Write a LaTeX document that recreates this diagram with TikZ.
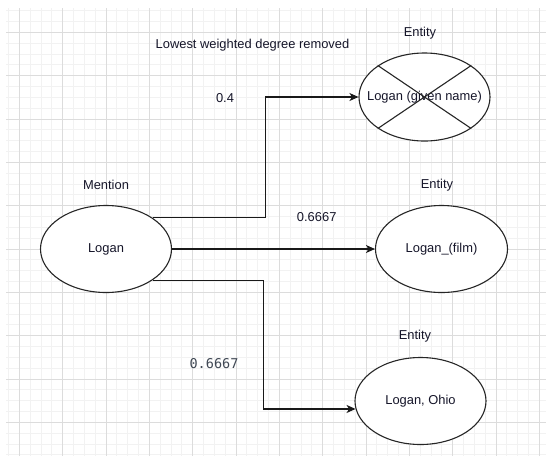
\documentclass[tikz,border=0pt]{standalone}
\usepackage{fontspec}
\setmainfont{Liberation Sans}
\newfontfamily\monofont{DejaVu Sans Mono}
\usepackage{tikz}
\usetikzlibrary{positioning,arrows.meta,shapes.geometric}
\usepackage{xcolor}
\definecolor{inkcol}{RGB}{22,22,42}
\definecolor{monocol}{RGB}{64,72,84}
\definecolor{gridmajor}{RGB}{220,220,220}
\definecolor{gridminor}{RGB}{242,242,242}

\begin{document}
\begin{tikzpicture}[
  x=1pt, y=-1pt,
  every node/.style={font=\fontsize{12.9}{15}\selectfont, text=inkcol},
  blob/.style={draw=black!85, line width=1.1pt, ellipse, fill=white,
    minimum width=131pt, minimum height=87pt, inner sep=0pt},
  link edge/.style={draw=black!90, line width=1.1pt,
    -{Stealth[length=9pt,width=8pt,inset=2.5pt]}},
  grid minor/.style={draw=gridminor, line width=0.9pt},
  grid major/.style={draw=gridmajor, line width=0.9pt}
]
  \useasboundingbox (0,0) rectangle (546,456);
  \fill[white] (0,0) rectangle (546,456);

  % background grid
  \foreach \i in {0,...,49}
    \draw[grid minor] ({8.5+10.833*\i},8) -- ({8.5+10.833*\i},456);
  \foreach \j in {0,...,41}
    \draw[grid minor] (6,{10.67+10.833*\j}) -- (546,{10.67+10.833*\j});
  \foreach \i in {0,...,12}
    \draw[grid major] ({19.33+43.33*\i},8) -- ({19.33+43.33*\i},456);
  \foreach \j in {0,...,9}
    \draw[grid major] (6,{32.33+43.33*\j}) -- (546,{32.33+43.33*\j});

  % mention and candidate entities
  \node[blob] (mention) at (106,249) {Logan};
  \node[blob, minimum height=88pt, inner xsep=-12pt] (given) at (424.5,97) {Logan (given name)};
  \node[blob, minimum width=132pt] (film) at (441.5,249) {Logan\_(film)};
  \node[blob] (ohio) at (420.5,401) {Logan, Ohio};

  \node at (106,185) {Mention};
  \node at (420,33) {Entity};
  \node at (437,185) {Entity};
  \node at (415,336) {Entity};
  \node at (252.5,45) {Lowest weighted degree removed};

  % removed candidate is crossed out
  \draw[black!85, line width=1.1pt] (given.north west) -- (given.south east);
  \draw[black!85, line width=1.1pt] (given.north east) -- (given.south west);

  % edges with their weights
  \coordinate (upper turn) at (265.3,0);
  \coordinate (lower turn) at (263.3,0);
  \draw[link edge] (mention.north east) -| (upper turn |- given.west) -- (given.west);
  \draw[link edge] (mention.east) -- (film.west);
  \draw[link edge] (mention.south east) -| (lower turn |- ohio.187) -- (ohio.187);

  \node at (225,98.3) {0.4};
  \node at (316.7,216.7) {0.6667};
  \node[font=\monofont\fontsize{13.5}{15}\selectfont, text=monocol] at (214,364) {0.6667};
\end{tikzpicture}
\end{document}
